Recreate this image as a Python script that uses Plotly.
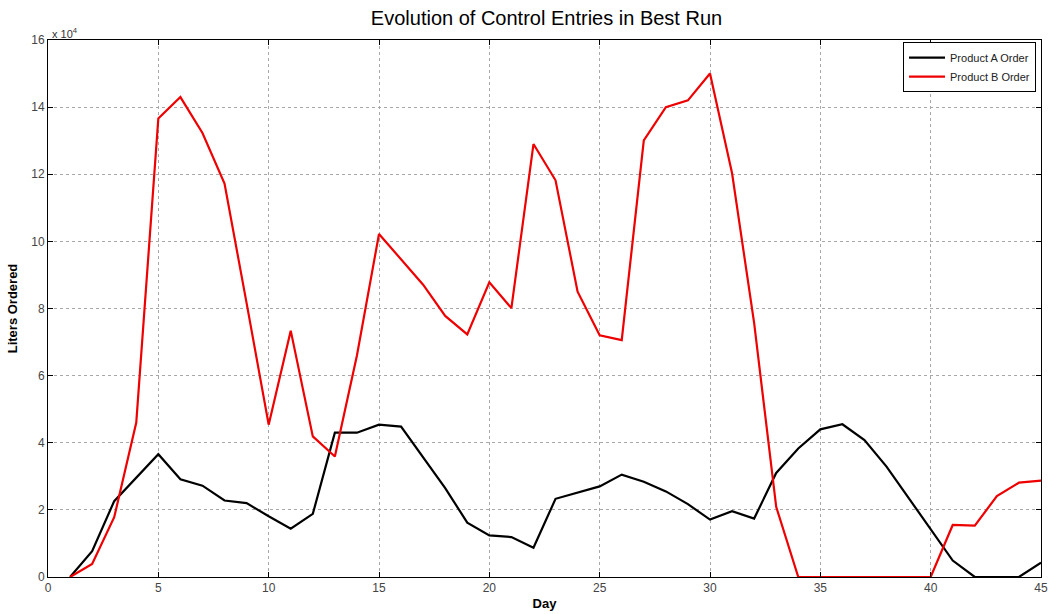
import plotly.graph_objects as go

# Daily order quantities (liters) for each product
days = list(range(1, 46))
product_a_order = [
    0, 7700, 22600, 29500, 36600, 29100, 27200, 22800, 22000, 18100,
    14400, 18800, 43000, 43000, 45400, 44800, 35800, 26500, 16200, 12400,
    11900, 8700, 23300, 25100, 27000, 30500, 28400, 25500, 21700, 17100,
    19600, 17400, 31000, 38300, 44000, 45500, 40800, 32900, 23600, 14000,
    4900, 0, 0, 0, 4300,
]
product_b_order = [
    0, 3900, 17800, 46000, 136600, 143000, 132300, 117200, 81600, 45400,
    73400, 41900, 35900, 66000, 102200, 94800, 87100, 77800, 72300, 87800,
    80100, 129000, 118200, 85000, 72000, 70600, 130100, 140000, 142000, 150000,
    120300, 75700, 20900, 0, 0, 0, 0, 0, 0, 0,
    15500, 15300, 24100, 28100, 28700,
]

x_ticks = list(range(0, 46, 5))
y_ticks = [v * 10000 for v in range(0, 17, 2)]
y_tick_text = [str(v) for v in range(0, 17, 2)]

font_family = "Arial, 'Liberation Sans', sans-serif"

fig = go.Figure()
fig.add_trace(go.Scatter(
    x=days, y=product_a_order, mode="lines", name="Product A Order",
    line=dict(color="black", width=2.2),
))
fig.add_trace(go.Scatter(
    x=days, y=product_b_order, mode="lines", name="Product B Order",
    line=dict(color="#ee0000", width=2.2),
))

axis_common = dict(
    showline=True, linecolor="black", linewidth=1, mirror="ticks",
    ticks="inside", ticklen=5, tickcolor="black",
    showgrid=True, gridcolor="#a8a8a8", griddash="dot", gridwidth=1,
    zeroline=False, automargin=False,
    tickfont=dict(family=font_family, size=12, color="#444444"),
)

fig.update_layout(
    width=1051, height=614,
    margin=dict(l=48, r=10, t=40, b=37),
    paper_bgcolor="white", plot_bgcolor="white",
    title=dict(
        text="Evolution of Control Entries in Best Run",
        x=0.52, xanchor="center", y=0.970, yanchor="middle",
        font=dict(family=font_family, size=20, color="black"),
    ),
    xaxis=dict(
        range=[0, 45], tickvals=x_ticks,
        title=dict(text="<b>Day</b>", standoff=4,
                   font=dict(family=font_family, size=13, color="black")),
        **axis_common,
    ),
    yaxis=dict(
        range=[0, 160000], tickvals=y_ticks, ticktext=y_tick_text,
        title=dict(text="<b>Liters Ordered</b>", standoff=10,
                   font=dict(family=font_family, size=13, color="black")),
        **axis_common,
    ),
    legend=dict(
        x=0.995, y=0.996, xanchor="right", yanchor="top",
        bgcolor="white", bordercolor="black", borderwidth=1,
        font=dict(family=font_family, size=11, color="#222222"),
        tracegroupgap=0, itemwidth=36,
    ),
    showlegend=True,
)

# Exponent label for the y axis scale
fig.add_annotation(
    text="x 10<sup>4</sup>", xref="paper", yref="paper",
    x=0, y=1, xanchor="left", yanchor="bottom", showarrow=False,
    xshift=2, yshift=-2,
    font=dict(family=font_family, size=11, color="#333333"),
)

fig.write_html("out.html")
